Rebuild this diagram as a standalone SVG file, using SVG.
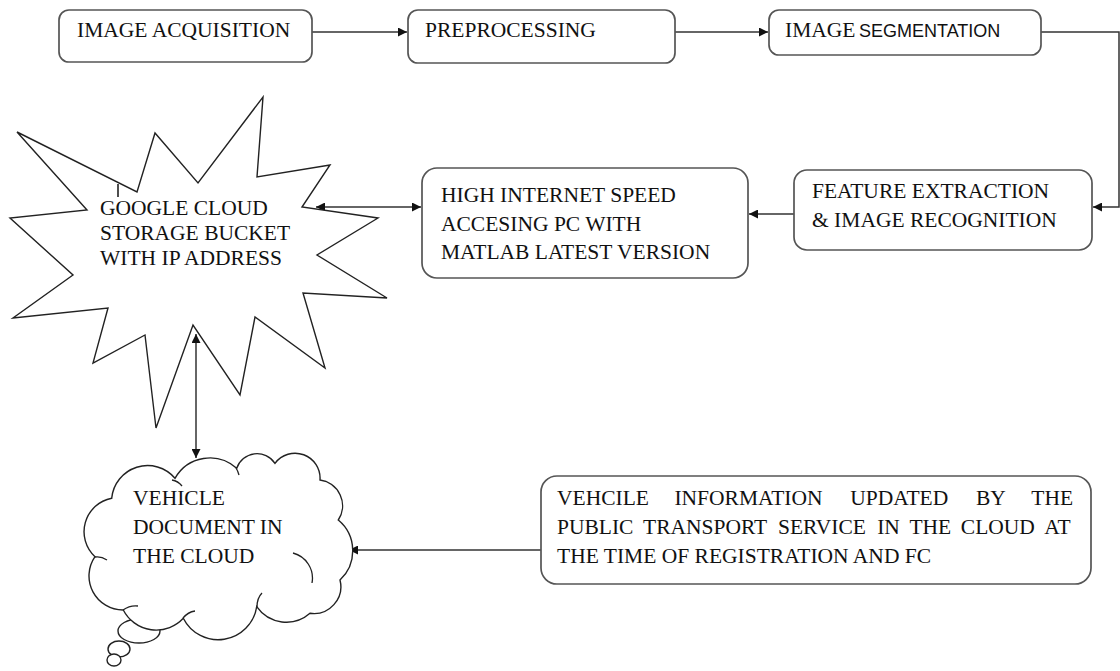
<svg xmlns="http://www.w3.org/2000/svg" width="1120" height="671" viewBox="0 0 1120 671">
<style>
.box{fill:#fff;stroke:#555;stroke-width:1.7}
.t{font-family:"Liberation Serif","Times New Roman",serif;font-size:21.5px;fill:#111}
.s{font-family:"Liberation Sans",Arial,sans-serif;font-size:18px;fill:#111}
.ln{fill:none;stroke:#333;stroke-width:1.5}
.sh{fill:#fff;stroke:#222;stroke-width:1.4}
</style>
<defs>
<marker id="ah" viewBox="0 0 10 10" refX="10" refY="5" markerWidth="9" markerHeight="9" markerUnits="userSpaceOnUse" orient="auto-start-reverse">
<path d="M0,0 L10,5 L0,10 Z" fill="#111"/>
</marker>
</defs>
<rect width="1120" height="671" fill="#fff"/>

<g id="connectors">
<line class="ln" x1="312" y1="32" x2="407" y2="32" marker-end="url(#ah)"/>
<line class="ln" x1="675" y1="32" x2="768" y2="32" marker-end="url(#ah)"/>
<polyline class="ln" points="1041,32 1119,32 1119,207 1093,207" marker-end="url(#ah)"/>
<line class="ln" x1="794" y1="214" x2="749" y2="214" marker-end="url(#ah)"/>
<line class="ln" x1="316" y1="207" x2="421" y2="207" marker-start="url(#ah)" marker-end="url(#ah)"/>
<line class="ln" x1="196" y1="334" x2="196" y2="458" marker-start="url(#ah)" marker-end="url(#ah)"/>
<line class="ln" x1="541" y1="550" x2="349" y2="550" marker-end="url(#ah)"/>
</g>

<g id="n1">
<rect class="box" x="59" y="10" width="253" height="52" rx="10"/>
<text class="t" x="77" y="37">IMAGE ACQUISITION</text>
</g>
<g id="n2">
<rect class="box" x="408" y="10" width="267" height="53" rx="10"/>
<text class="t" x="425" y="37">PREPROCESSING</text>
</g>
<g id="n3">
<rect class="box" x="769" y="10" width="272" height="45" rx="10"/>
<text class="t" x="785" y="37">IMAGE<tspan class="s" x="859">SEGMENTATION</tspan></text>
</g>
<g id="n4">
<rect class="box" x="794" y="170" width="298" height="80" rx="13"/>
<text class="t" x="812" y="198">FEATURE EXTRACTION</text>
<text class="t" x="812" y="227">&amp; IMAGE RECOGNITION</text>
</g>
<g id="n5">
<rect class="box" x="422" y="168" width="326" height="110" rx="15"/>
<text class="t" x="441" y="202">HIGH INTERNET SPEED</text>
<text class="t" x="441" y="231">ACCESING PC WITH</text>
<text class="t" x="441" y="259">MATLAB LATEST VERSION</text>
</g>
<g id="n6">
<polygon class="sh" points="17,132 137,192 155,133 198,183 263,97 257,177 330,165 302,207 378,218 317,255 387,298 303,293 325,368 255,317 240,395 193,325 156,428 145,335 93,363 108,308 13,318 73,275 10,218 87,210"/>
<line x1="118" y1="184" x2="118" y2="197" stroke="#222" stroke-width="1.6"/>
<text class="t" x="100" y="215">GOOGLE CLOUD</text>
<text class="t" x="100" y="240">STORAGE BUCKET</text>
<text class="t" x="100" y="265">WITH IP ADDRESS</text>
</g>
<g id="n7">
<ellipse class="sh" cx="139" cy="631" rx="21" ry="12"/>
<ellipse class="sh" cx="119" cy="649" rx="11" ry="8"/>
<ellipse class="sh" cx="114" cy="660" rx="7" ry="6"/>
<path class="sh" d="M111.7,498.3 A36,36 0 0 1 175,478.3 A40,40 0 0 1 236.7,468.3 A21.5,21.5 0 0 1 275,463.3 A25,25 0 0 1 320,480 A26,26 0 0 1 338.3,520 A40,40 0 0 1 340,580 A27,27 0 0 1 310,613.3 A36,36 0 0 1 256.7,606.7 A39,39 0 0 1 183.3,618.3 A37,37 0 0 1 123.3,610 A34,34 0 0 1 95,556.7 A34,34 0 0 1 111.7,498.3 Z"/>
<path fill="none" stroke="#222" stroke-width="1.3" d="M172,480 Q178,481 182,486 M236,468 Q238,471 239,475 M293,553 A26,26 0 0 1 312,583 M257,607 Q257,598 262,593 M183,618 Q188,612 195,611 M123,610 Q130,605 138,606 M95,557 Q101,556 107,560"/>
<text class="t" x="133" y="505">VEHICLE</text>
<text class="t" x="133" y="534">DOCUMENT IN</text>
<text class="t" x="133" y="563">THE CLOUD</text>
</g>
<g id="n8">
<rect class="box" x="541" y="476" width="550" height="108" rx="16"/>
<text class="t" y="505"><tspan x="557">VEHCILE</tspan><tspan x="674.4">INFORMATION</tspan><tspan x="850.3">UPDATED</tspan><tspan x="976">BY</tspan><tspan x="1031.3">THE</tspan></text>
<text class="t" y="534"><tspan x="557">PUBLIC</tspan><tspan x="643">TRANSPORT</tspan><tspan x="778">SERVICE</tspan><tspan x="877.2">IN</tspan><tspan x="909.4">THE</tspan><tspan x="960.8">CLOUD</tspan><tspan x="1044.3">AT</tspan></text>
<text class="t" x="557" y="563">THE TIME OF REGISTRATION AND FC</text>
</g>
</svg>
